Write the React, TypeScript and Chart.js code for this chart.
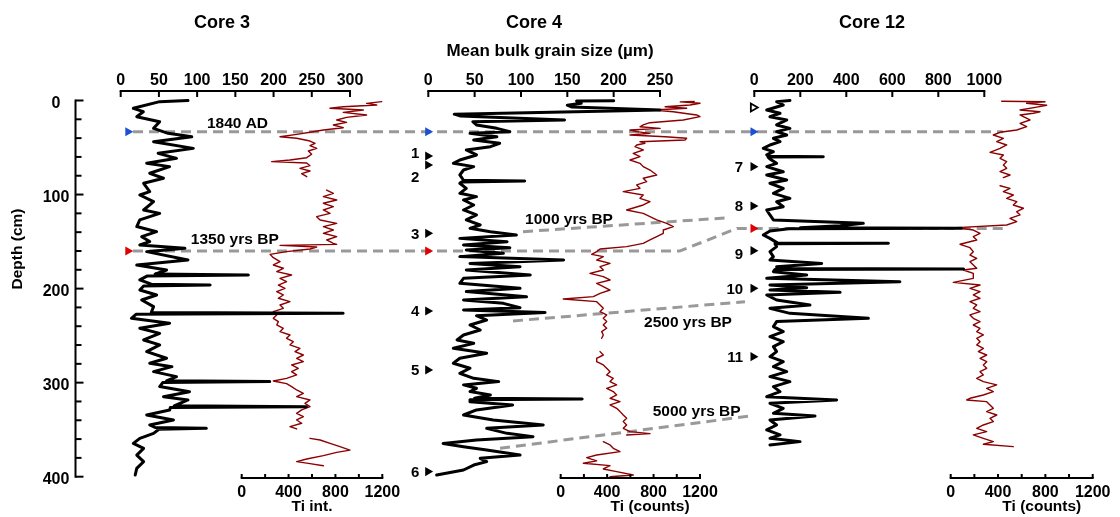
import React, { useEffect, useRef } from 'react';
import { Chart, registerables } from 'chart.js';

Chart.register(...registerables);

const W = 1120;
const H = 517;

/* ---------------- data (depth in cm) ---------------- */
// Core 3 – mean bulk grain size (µm)
const core3GrainDepth = [0, 1.2, 8.3, 11.9, 17.2, 22.5, 29.6, 34.9, 38.5, 43.8, 50.9, 56.2, 61.5, 66.8, 70.3, 77.4, 82.7, 88, 96.9, 100.5, 107.6, 116.4, 120, 127, 134, 139.5, 144.8, 150, 153.6, 157.2, 160.7, 169.6, 174.9, 180.2, 184.6, 185.5, 186.5, 190.8, 195.3, 196.2, 197.2, 201.5, 206.8, 212.1, 219.2, 225.4, 226.3, 227.3, 231.6, 236.9, 242.2, 247.6, 254.6, 259.9, 267, 274.1, 279.4, 283, 288.3, 293.6, 298, 298.9, 299.9, 304.2, 309.6, 314.9, 318.4, 324.6, 325.5, 326.5, 329, 334.4, 339.7, 345, 347.7, 348.6, 349.6, 353.9, 359.2, 364.6, 369.9, 377, 384, 391.1, 398.2];
const core3Grain = [88, 51, 16.5, 29.6, 21, 51, 43, 62, 93, 43, 95, 49, 73, 34, 64, 38, 56, 30, 38, 25, 43, 30, 51, 25, 21, 47, 27.5, 38, 25, 84, 34, 88, 21, 60, 45, 167, 35, 25, 40, 117, 30, 25, 47, 27.5, 43, 40, 291, 20, 14, 64, 25, 51, 30, 51, 34, 60, 38, 67, 43, 73, 60, 195, 55, 51, 90, 56, 88, 70, 243, 65, 64, 34, 69, 38, 45, 112, 50, 43, 25, 16.5, 30, 21, 30, 21, 19];
// Core 3 – Ti intensity
const core3TiDepth = [1.2, 3.0, 4.8, 6.6, 8.3, 10.1, 12.6, 15.4, 17.9, 20.7, 23.2, 26, 28.9, 31.4, 33.8, 36, 38.5, 40.2, 43.1, 45.5, 48, 50.9, 53.7, 57.2, 60.8, 63.3, 65, 66.5, 69.3, 72.1, 75, 77.8, 81, 88, 95.2, 98.7, 102.2, 105.8, 109.3, 112.9, 116.4, 120, 123.5, 127, 130.6, 134.1, 137.7, 141.2, 144.8, 148.3, 151.9, 153, 154, 155.8, 157.9, 160.7, 163.6, 167.1, 171.4, 174.9, 178.4, 182, 185.5, 189.1, 192.6, 196.2, 199.7, 203.2, 206.8, 210.3, 213.9, 217.4, 221, 224.5, 228, 231.6, 235.1, 238.7, 242.2, 245.8, 249.3, 252.8, 256.4, 259.9, 263.5, 267, 270.6, 274.1, 277.7, 281.2, 284.7, 288.3, 291.8, 295.4, 298.2, 301.1, 304.2, 307.8, 311.3, 314.9, 318.4, 322, 325.5, 329, 332.6, 336.1, 339.7, 343.2, 346.7, 349.2, 354, 359.2, 361, 364.6, 368.1, 371.7, 374.1, 377.6, 381.2, 384, 386.1, 388.3];
const core3Ti = [1195, 1066, 1152, 867, 754, 1038, 867, 1066, 895, 811, 895, 782, 867, 697, 583, 469, 327, 469, 583, 626, 583, 640, 569, 597, 555, 412, 256, 555, 583, 497, 583, 512, 555, null, 725, 782, 697, 811, 697, 782, 697, 754, 640, 669, 811, 697, 782, 697, 811, 725, 782, 811, 327, 640, 583, 383, 242, 270, 327, 270, 355, 299, 426, 327, 383, 313, 369, 299, 355, 313, 412, 327, 355, 270, 299, 270, 313, 299, 355, 327, 412, 383, 440, 412, 497, 455, 526, 469, 526, 426, 483, 426, 469, 383, 270, 383, 426, 469, 526, 469, 583, 540, 583, 512, 469, 526, 469, 512, 412, 469, null, 583, 669, 754, 839, 924, 811, 697, 555, 469, 583, 697];

// Core 4 – mean bulk grain size (µm)
const core4GrainDepth = [0.3, 0.6, 3, 5, 7, 10.1, 14.5, 16.5, 20.7, 22.5, 26, 29.6, 33.1, 34.9, 38.5, 42, 45.5, 49.1, 52.6, 57.9, 63.3, 66.8, 70.3, 73.9, 79.2, 84.8, 85.6, 86.6, 88, 93.4, 98.7, 102.2, 105.8, 111.1, 116.4, 121.7, 127, 132.4, 135.9, 139.5, 143, 146.6, 150.1, 153.6, 156.5, 159, 162.5, 166, 169.6, 173.2, 176.7, 180.2, 185.5, 189.1, 194.4, 199.7, 203.2, 208.7, 212.1, 215.7, 220.3, 222.8, 225.3, 228.8, 233.4, 238.7, 244, 249.3, 254.6, 258.2, 263.5, 268.8, 274.1, 279.4, 284.7, 290.1, 295.4, 298.9, 302.4, 306, 309.5, 313.1, 316.6, 317.4, 318.3, 320.2, 323.7, 329, 334.4, 339.7, 345, 348.6, 353.9, 357.4, 361, 364.6, 368.1, 371.7, 377, 380.5, 384, 387.6, 392.9, 398.2];
const core4Grain = [200, 160, 165, 150, 155, 250, 28, 35, 147, 48, 52, 74, 88, 45, 74, 49, 77, 67, 41, 52, 34, 27, 49, 38, 34, 38, 104, 36, 34, 41, 34, 52, 38, 49, 38, 52, 41, 56, 45, 67, 95, 34, 85, 38, 88, 41, 81, 34, 146, 45, 99, 41, 110, 38, 34, 99, 41, 106, 38, 81, 99, 38, 126, 52, 63, 45, 56, 38, 31, 49, 27, 63, 34, 27, 45, 34, 49, 76, 38, 52, 45, 67, 50, 166, 45, 45, 91, 52, 38, 70, 124, 63, 85, 113, 52, 16, 38, 63, 99, 56, 63, 49, 38, 9];
// Core 4 – Ti counts
const core4TiDepth = [1, 1.5, 3, 4.8, 6.6, 8.3, 10.1, 11.9, 13, 15.4, 17.2, 20.7, 23.6, 26, 27.9, 29.6, 31.4, 33.1, 34.9, 36.7, 38.5, 40.2, 42, 43.8, 45.5, 47.3, 49.1, 52.6, 56.2, 59.7, 63.3, 66.8, 70.3, 73.9, 79.2, 82.7, 86.3, 89.8, 93.4, 96.9, 100.5, 104, 107.6, 111.1, 116.4, 120, 123.5, 127, 130.6, 134.1, 137.7, 141.2, 144.8, 148.3, 151.9, 155.4, 157.9, 160.7, 163.6, 166, 169.6, 173.2, 176.7, 180.2, 183.8, 187.3, 190.8, 194.4, 197.9, 201.5, 205, 208.5, 211, 213.9, 217.4, 221, 224.5, 228, 231.6, 235.1, 238.7, 242.2, 245.8, 249.3, 252.8, 260, 267, 270.6, 274.1, 277.7, 281.2, 284.7, 288.3, 291.8, 295.4, 298.9, 302.4, 306, 309.5, 313.1, 316.6, 320.2, 323.7, 327.3, 330.8, 334.4, 337.9, 341.4, 345, 348.6, 352.1, 354.2, 355.6, 359, 362.7, 366.2, 369.8, 373.3, 376.9, 379.7, 383.2, 385.7, 388.2, 391.8, 394.6, 398.2, 400];
const core4Ti = [1150, 1030, 1200, 1114, 900, 1085, 796, 970, 1030, 1171, 1200, 1056, 768, 711, 683, 856, 597, 655, 768, 597, 900, 1085, 1071, 683, 726, 655, 640, 711, 625, 683, 597, 683, 711, 769, 827, 711, 741, 655, 683, 539, 711, 683, 769, 711, 568, 711, 769, 827, 913, 970, 884, 884, 827, 769, 711, 568, 339, 310, 267, 367, 310, 425, 339, 367, 252, 367, 425, 310, 367, 425, 339, 281, 22, 310, 339, 367, 339, 396, 367, 396, 367, 396, 353, 367, 353, null, 339, 367, 310, 310, 367, 396, 425, 396, 453, 425, 482, 396, 453, 482, 425, 511, 425, 482, 511, 539, 568, 539, 568, 539, 597, 769, 568, null, 367, 425, 453, 511, 310, 224, 310, 195, 425, 367, 482, 625, 425];

// Core 12 – mean bulk grain size (µm)
const core12GrainDepth = [0, 1.2, 4.8, 10.1, 13.6, 17.2, 20.7, 26, 29.6, 33.1, 36.7, 40.2, 43.8, 47.3, 50.9, 54.4, 57.9, 59.2, 59.7, 60.2, 62.2, 66.8, 70.3, 75.7, 79.2, 84.5, 88, 93.4, 98.7, 104, 107.6, 112.9, 116.4, 121.7, 127, 130.6, 133.1, 135.4, 135.9, 136.4, 138.7, 143, 146.6, 151.4, 151.9, 152.4, 155.4, 160.7, 166, 169.6, 173.2, 176.7, 178.7, 179.2, 179.7, 182, 185.5, 189.1, 192.6, 196.2, 199, 201.5, 204, 206.8, 212.1, 217.4, 221, 226.3, 231.6, 235.1, 240.4, 245.8, 251.1, 256.4, 261.7, 267, 272.4, 277.7, 283, 288.3, 293.6, 298.9, 304.2, 309.6, 314.9, 318.4, 322, 327.3, 332.6, 335.4, 339.7, 345, 350.3, 355.6, 359.2, 362.7, 366.2];
const core12Grain = [155, 97, 126, 54, 112, 68, 141, 97, 155, 97, 141, 83, 112, 68, 39, 83, 54, 60, 300, 60, 68, 97, 54, 126, 54, 141, 68, 126, 83, 155, 97, 126, 54, 68, 83, 474, 373, 200, 900, 150, 68, 39, 68, 100, 583, 90, 97, 68, 83, 68, 293, 97, 100, 910, 90, 83, 228, 54, 633, 68, 228, 68, 373, 54, 97, 242, 68, 155, 496, 97, 83, 126, 68, 126, 83, 97, 68, 126, 83, 141, 68, 155, 83, 112, 54, 358, 68, 126, 83, 264, 68, 97, 54, 112, 68, 199, 68];
// Core 12 – Ti counts
const core12TiDepth = [0.8, 1.3, 3, 5, 7, 10.1, 12, 13.6, 15.4, 17.2, 20.7, 24.3, 27.8, 31.4, 33.8, 36.7, 40.2, 43.8, 47.3, 50.9, 55.1, 57.9, 61.5, 65, 68.6, 72.1, 75.7, 79.2, 82, 86, 90.6, 93.4, 96.9, 100.5, 104, 107.6, 111.1, 114.6, 118.2, 121.7, 125.3, 128.8, 132.4, 135.2, 137.7, 141.2, 144.8, 148.3, 152.9, 156.5, 160.7, 164.3, 167.8, 171.4, 174.9, 178.4, 180.2, 183.8, 189.1, 193.4, 196.2, 199.7, 203.2, 206.8, 210.3, 213.9, 217.4, 221, 224.5, 228, 231.6, 235.1, 238.7, 242.2, 245.8, 249.3, 252.8, 256.4, 259.9, 263.5, 267, 270.6, 274.1, 277.7, 281.2, 284.7, 288.3, 291.8, 295.4, 298.9, 302.4, 306, 309.6, 313.1, 316.6, 318.4, 320.2, 323.7, 327.3, 330.8, 334.4, 337.9, 341.4, 345, 348.6, 352.1, 355.6, 359.2, 362.7, 365.5, 368];
const core12Ti = [431, 797, 642, 811, 727, 586, 755, 698, 586, 614, 670, 586, 642, 558, 417, 360, 445, 389, 473, 417, 332, 445, 417, 473, 445, 473, 417, 501, 445, null, 417, 501, 445, 529, 473, 558, 529, 614, 558, 586, 501, 558, 473, 51, 191, 248, 191, 220, 79, 163, 191, 163, 220, 163, 191, 220, 107, 191, 191, 22, 248, 163, 248, 191, 248, 163, 220, 191, 248, 163, 191, 248, 191, 248, 220, 276, 220, 248, 220, 276, 234, 304, 248, 304, 276, 304, 248, 276, 220, 276, 389, 304, 360, 276, 163, 135, 304, 332, 360, 304, 389, 332, 360, 276, 220, 304, 191, 276, 360, 276, 529];

/* ---------------- ticks ---------------- */
const depthRange = [0, 400];
const depthTicks = [0, 100, 200, 300, 400];
const depthMinorStep = 20;
const core3GrainTicks = [0, 50, 100, 150, 200, 250, 300];
const core4GrainTicks = [0, 50, 100, 150, 200, 250];
const core12GrainTicks = [0, 200, 400, 600, 800, 1000];
const tiTicks = [0, 200, 400, 600, 800, 1000, 1200];
const tiTickLabels = [0, 400, 800, 1200];

/* ---------------- tie points & markers ---------------- */
const age1840Depth = 33.2;
const age1350Depths = [160, 160, 136]; // Core 3, Core 4, Core 12
const core4MarkerDepths = [59, 68.6, 141.2, 223.8, 286.5, 394.6];
const core4MarkerLabels = ['1', '2', '3', '4', '5', '6'];
const core4LabelDepths = [55.8, 81, 141.2, 223.8, 286.5, 394.6];
const core12MarkerDepths = [70.4, 112.2, 159.7, 199.7, 272.4];
const core12MarkerLabels = ['7', '8', '9', '10', '11'];
const core12LabelDepths = [70.4, 112.2, 163, 199.7, 272.4];
const core12OpenMarkerDepth = [7.4];

// correlation lines: x on the Core 4 grain-size scale, y = depth
const link1840X = [-318.6, 620];
const link1840Depth = [33.2, 33.2];
const link1350X = [-318.6, 271.6, 333.1, 622];
const link1350Depth = [160, 160, 136, 136];
const link1000X = [102.2, 325.5];
const link1000Depth = [139.5, 124.5];
const link2500X = [91.4, 341.7];
const link2500Depth = [234.4, 213.9];
const link5000X = [77.4, 347];
const link5000Depth = [369.8, 335.5];
const ageLabels = ['1840 AD', '1350 yrs BP', '1000 yrs BP', '2500 yrs BP', '5000 yrs BP'];
const ageLabelX = [-205.9, -208.8, 151.8, 280.2, 289.6];
const ageLabelDepth = [22.9, 146.2, 124.9, 235.2, 329.1];

/* ---------------- layout / style ---------------- */
const FONT = '"Liberation Sans", Arial, Helvetica, sans-serif';
const BLACK = '#000000';
const DARK_RED = '#8b0000';
const DASH_GREY = '#999999';
const BLUE = '#1d4fd6';
const RED = '#e00000';
const MARKER_X = { c3: 9.5, c4: -0.5, c12: -5 };

const L = {
  depthAxisX: 75.5,
  depthLabelX: 56,
  depthTitleX: 21.5,
  depthTitleY: 249,
  topAxisY: 91,
  topTickLen: 6,
  topLabelY: 79,
  tiAxisY: 478,
  tiTickLen: 4,
  tiLabelY: 491.5,
  tiTitleY: 505.5,
  titleY: 21.2,
  subtitleY: 49.5,
  subtitleX: 550,
  tickFont: 16,
  labelFont: 15.5,
};

const PANELS = [
  { title: 'Core 3', titleX: 222, grainId: 'x3g', tiId: 'x3t', grainTicks: core3GrainTicks, tiTitle: 'Ti int.', tiTitleAt: 600 },
  { title: 'Core 4', titleX: 534, grainId: 'x4g', tiId: 'x4t', grainTicks: core4GrainTicks, tiTitle: 'Ti (counts)', tiTitleAt: 770 },
  { title: 'Core 12', titleX: 872, grainId: 'x12g', tiId: 'x12t', grainTicks: core12GrainTicks, tiTitle: 'Ti (counts)', tiTitleAt: 770 },
];

function span(v0: number, v1: number, p0: number, p1: number, size: number) {
  const k = (v1 - v0) / (p1 - p0);
  return { min: v0 - p0 * k, max: v0 + (size - p0) * k };
}

function drawText(ctx: CanvasRenderingContext2D, s: string, x: number, yc: number, size: number, align: CanvasTextAlign = 'center') {
  ctx.font = `bold ${size}px ${FONT}`;
  ctx.textAlign = align;
  ctx.textBaseline = 'alphabetic';
  ctx.fillText(s, x, yc + size * 0.36);
}

function seg(ctx: CanvasRenderingContext2D, x1: number, y1: number, x2: number, y2: number) {
  ctx.beginPath();
  ctx.moveTo(x1, y1);
  ctx.lineTo(x2, y2);
  ctx.stroke();
}

const axesPlugin = {
  id: 'coreAxes',
  afterDraw(chart: any) {
    const ctx: CanvasRenderingContext2D = chart.ctx;
    const ys = chart.scales.y;
    ctx.save();
    ctx.strokeStyle = BLACK;
    ctx.fillStyle = BLACK;
    ctx.lineWidth = 2;
    ctx.lineCap = 'butt';

    // depth axis
    const yTop = ys.getPixelForValue(depthRange[0]);
    const yBot = ys.getPixelForValue(depthRange[1]);
    seg(ctx, L.depthAxisX, yTop - 1, L.depthAxisX, yBot + 1);
    for (let d = depthRange[0]; d <= depthRange[1]; d += depthMinorStep) {
      const py = ys.getPixelForValue(d);
      const major = depthTicks.includes(d);
      seg(ctx, L.depthAxisX, py, L.depthAxisX + (major ? 8 : 6), py);
    }
    depthTicks.forEach((d) => drawText(ctx, String(d), L.depthLabelX, ys.getPixelForValue(d) + 1.5, L.tickFont));
    ctx.save();
    ctx.translate(L.depthTitleX, L.depthTitleY);
    ctx.rotate(-Math.PI / 2);
    ctx.font = `bold ${L.labelFont}px ${FONT}`;
    ctx.textAlign = 'center';
    ctx.textBaseline = 'alphabetic';
    ctx.fillText('Depth (cm)', 0, 0);
    ctx.restore();

    // panel axes
    PANELS.forEach((p) => {
      const gs = chart.scales[p.grainId];
      const gt = p.grainTicks;
      const gx0 = gs.getPixelForValue(gt[0]);
      const gx1 = gs.getPixelForValue(gt[gt.length - 1]);
      seg(ctx, gx0 - 1, L.topAxisY, gx1 + 1, L.topAxisY);
      gt.forEach((t) => {
        const px = gs.getPixelForValue(t);
        seg(ctx, px, L.topAxisY, px, L.topAxisY + L.topTickLen);
        drawText(ctx, String(t), px, L.topLabelY, L.tickFont);
      });
      drawText(ctx, p.title, p.titleX, L.titleY, 18);

      const ts = chart.scales[p.tiId];
      const tx0 = ts.getPixelForValue(tiTicks[0]);
      const tx1 = ts.getPixelForValue(tiTicks[tiTicks.length - 1]);
      seg(ctx, tx0 - 1, L.tiAxisY, tx1 + 1, L.tiAxisY);
      tiTicks.forEach((t) => {
        const px = ts.getPixelForValue(t);
        seg(ctx, px, L.tiAxisY, px, L.tiAxisY - L.tiTickLen);
      });
      tiTickLabels.forEach((t) => drawText(ctx, String(t), ts.getPixelForValue(t), L.tiLabelY, L.tickFont));
      drawText(ctx, p.tiTitle, ts.getPixelForValue(p.tiTitleAt), L.tiTitleY, L.labelFont);
    });
    drawText(ctx, 'Mean bulk grain size (\u00b5m)', L.subtitleX, L.subtitleY, 17);

    // age labels (on Core 4 grain scale coordinates)
    const x4 = chart.scales.x4g;
    ageLabels.forEach((s, i) => drawText(ctx, s, x4.getPixelForValue(ageLabelX[i]), ys.getPixelForValue(ageLabelDepth[i]), L.labelFont));

    // marker numbers
    const x4m = x4.getPixelForValue(MARKER_X.c4);
    core4MarkerLabels.forEach((s, i) => drawText(ctx, s, x4m - 8.5, ys.getPixelForValue(core4LabelDepths[i]), 15, 'right'));
    const x12m = chart.scales.x12g.getPixelForValue(MARKER_X.c12);
    core12MarkerLabels.forEach((s, i) => drawText(ctx, s, x12m - 10, ys.getPixelForValue(core12LabelDepths[i]), 15, 'right'));
    ctx.restore();
  },
};

function series(xAxisID: string, xs: (number | null)[], ds: number[], color: string, width: number, order: number, dash: number[] = []) {
  return {
    xAxisID,
    yAxisID: 'y',
    data: ds.map((d, i) => ({ x: xs[i], y: d })),
    borderColor: color,
    borderWidth: width,
    borderDash: dash,
    borderJoinStyle: 'round',
    borderCapStyle: dash.length ? 'butt' : 'round',
    pointRadius: 0,
    fill: false,
    tension: 0,
    spanGaps: false,
    order,
  };
}

function markers(xAxisID: string, x: number, depths: number[], color: string, open = false) {
  return {
    xAxisID,
    yAxisID: 'y',
    data: depths.map((d) => ({ x, y: d })),
    showLine: false,
    pointStyle: 'triangle',
    pointRotation: 90,
    pointRadius: open ? 4.6 : 5.3,
    pointBackgroundColor: open ? '#ffffff' : color,
    pointBorderColor: color,
    pointBorderWidth: open ? 1.8 : 0,
    order: 0,
  };
}

function hiddenScale(axis: string, range: { min: number; max: number }) {
  return { type: 'linear', axis, display: false, bounds: 'data', grace: 0, min: range.min, max: range.max };
}

export default function App() {
  const ref = useRef<HTMLCanvasElement | null>(null);

  useEffect(() => {
    if (!ref.current) return;
    const datasets: any[] = [
      series('x4g', link1840X, link1840Depth, DASH_GREY, 3, 5, [10, 6]),
      series('x4g', link1350X, link1350Depth, DASH_GREY, 3, 5, [10, 6]),
      series('x4g', link1000X, link1000Depth, DASH_GREY, 3, 5, [10, 6]),
      series('x4g', link2500X, link2500Depth, DASH_GREY, 3, 5, [10, 6]),
      series('x4g', link5000X, link5000Depth, DASH_GREY, 3, 5, [10, 6]),
      series('x3t', core3Ti, core3TiDepth, DARK_RED, 1.4, 3),
      series('x4t', core4Ti, core4TiDepth, DARK_RED, 1.4, 3),
      series('x12t', core12Ti, core12TiDepth, DARK_RED, 1.4, 3),
      series('x3g', core3Grain, core3GrainDepth, BLACK, 3, 1),
      series('x4g', core4Grain, core4GrainDepth, BLACK, 3, 1),
      series('x12g', core12Grain, core12GrainDepth, BLACK, 3, 1),
      markers('x3g', MARKER_X.c3, [age1840Depth], BLUE),
      markers('x4g', MARKER_X.c4, [age1840Depth], BLUE),
      markers('x12g', MARKER_X.c12, [age1840Depth], BLUE),
      markers('x3g', MARKER_X.c3, [age1350Depths[0]], RED),
      markers('x4g', MARKER_X.c4, [age1350Depths[1]], RED),
      markers('x12g', MARKER_X.c12, [age1350Depths[2]], RED),
      markers('x4g', MARKER_X.c4, core4MarkerDepths, BLACK),
      markers('x12g', MARKER_X.c12, core12MarkerDepths, BLACK),
      markers('x12g', MARKER_X.c12, core12OpenMarkerDepth, BLACK, true),
    ];

    const chart = new Chart(ref.current, {
      type: 'line',
      data: { datasets },
      options: {
        responsive: false,
        animation: false,
        devicePixelRatio: 1,
        events: [],
        layout: { padding: 0, autoPadding: false },
        plugins: {
          legend: { display: false },
          tooltip: { enabled: false },
          title: { display: false },
        },
        scales: {
          x: { type: 'linear', display: false },
          x3g: hiddenScale('x', span(0, 300, 120.7, 350, W)),
          x3t: hiddenScale('x', span(0, 1200, 241.7, 382.3, W)),
          x4g: hiddenScale('x', span(0, 250, 428.3, 660, W)),
          x4t: hiddenScale('x', span(0, 1200, 560.7, 700, W)),
          x12g: hiddenScale('x', span(0, 1000, 754.3, 984.3, W)),
          x12t: hiddenScale('x', span(0, 1200, 950.7, 1092.7, W)),
          y: { ...hiddenScale('y', span(depthRange[0], depthRange[1], 100.5, 476.7, H)), reverse: true },
        },
      } as any,
      plugins: [axesPlugin],
    });
    return () => chart.destroy();
  }, []);

  return (
    <div style={{ position: 'absolute', left: 0, top: 0, width: W, height: H, background: '#ffffff' }}>
      <canvas ref={ref} width={W} height={H} style={{ display: 'block', width: W, height: H }} />
    </div>
  );
}
